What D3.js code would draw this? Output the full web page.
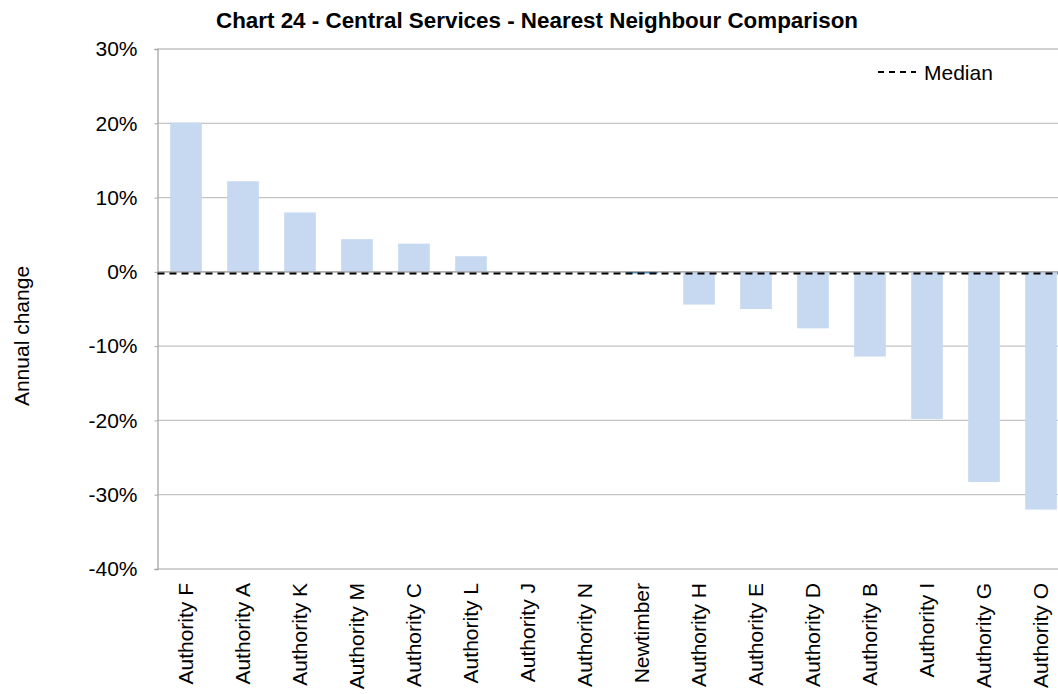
<!DOCTYPE html>
<html>
<head>
<meta charset="utf-8">
<script src="https://cdn.jsdelivr.net/npm/d3@7"></script>
<style>
  html, body { margin: 0; padding: 0; background: #fff; }
  svg { display: block; font-family: "Liberation Sans", Arial, sans-serif; }
</style>
</head>
<body>
<svg id="chart" width="1058" height="694"></svg>
<script>
// Annual change in spend, per authority (percent)
const authorities = ["Authority F", "Authority A", "Authority K", "Authority M", "Authority C",
  "Authority L", "Authority J", "Authority N", "Newtimber", "Authority H", "Authority E",
  "Authority D", "Authority B", "Authority I", "Authority G", "Authority O"];
const annualChange = [20.1, 12.2, 8.0, 4.4, 3.8, 2.1, 0, 0, -0.2, -4.4, -5.0, -7.6, -11.4, -19.8, -28.3, -32.0];
const highlighted = "Newtimber";
const yTicks = [30, 20, 10, 0, -10, -20, -30, -40];

const svg = d3.select("#chart");
const margin = { left: 157.5, top: 49, bottom: 569 };
const step = 57;
const fontFamily = "Liberation Sans, Arial, sans-serif";

const x = d3.scaleBand()
  .domain(authorities)
  .range([margin.left, margin.left + step * authorities.length])
  .paddingInner(0.445)
  .paddingOuter(0.2225);

const y = d3.scaleLinear().domain([-40, 30]).range([margin.bottom, margin.top]);

// Horizontal gridlines
svg.append("g")
  .selectAll("line")
  .data(yTicks)
  .join("line")
  .attr("x1", margin.left)
  .attr("x2", 1058)
  .attr("y1", d => y(d))
  .attr("y2", d => y(d))
  .attr("stroke", "#c3c3c3")
  .attr("stroke-width", 1.3);

// Y axis with percent labels
const yAxis = d3.axisLeft(y)
  .tickValues(yTicks)
  .tickFormat(d => d + "%")
  .tickSize(3)
  .tickPadding(17);

const yAxisG = svg.append("g")
  .attr("transform", `translate(${margin.left},0)`)
  .call(yAxis);
yAxisG.select(".domain").attr("stroke", "#a6a6a6").attr("stroke-width", 1.3);
yAxisG.selectAll(".tick line").attr("stroke", "#a6a6a6");
yAxisG.selectAll(".tick text")
  .attr("font-size", 21)
  .attr("fill", "#000")
  .style("font-family", fontFamily);

// Bars
svg.append("g")
  .selectAll("rect")
  .data(authorities.map((a, i) => ({ name: a, value: annualChange[i] })))
  .join("rect")
  .attr("x", d => x(d.name))
  .attr("width", x.bandwidth())
  .attr("y", d => y(Math.max(0, d.value)))
  .attr("height", d => Math.abs(y(d.value) - y(0)))
  .attr("fill", d => d.name === highlighted ? "#0070c0" : "#c6d9f1");

// Zero line
svg.append("line")
  .attr("x1", margin.left).attr("x2", 1058)
  .attr("y1", y(0)).attr("y2", y(0))
  .attr("stroke", "#a6a6a6").attr("stroke-width", 1.3);

// Median line
const median = d3.median(annualChange);
svg.append("line")
  .attr("x1", margin.left).attr("x2", 1058)
  .attr("y1", y(median) + 0.8).attr("y2", y(median) + 0.8)
  .attr("stroke", "#000").attr("stroke-width", 2)
  .attr("stroke-dasharray", "7,5");

// Category labels
svg.append("g")
  .selectAll("text")
  .data(authorities)
  .join("text")
  .attr("transform", d => `translate(${x(d) + x.bandwidth() / 2},583) rotate(-90)`)
  .attr("text-anchor", "end")
  .attr("dy", "0.35em")
  .attr("font-size", 21)
  .attr("fill", "#000")
  .text(d => d);

// Axis title
svg.append("text")
  .attr("transform", "translate(22,336) rotate(-90)")
  .attr("text-anchor", "middle")
  .attr("dy", "0.35em")
  .attr("font-size", 21)
  .attr("fill", "#000")
  .text("Annual change");

// Chart title
svg.append("text")
  .attr("x", 537)
  .attr("y", 28)
  .attr("text-anchor", "middle")
  .attr("font-size", 22.4)
  .attr("font-weight", "bold")
  .attr("fill", "#000")
  .text("Chart 24 - Central Services - Nearest Neighbour Comparison");

// Legend
svg.append("line")
  .attr("x1", 878).attr("x2", 916)
  .attr("y1", 72).attr("y2", 72)
  .attr("stroke", "#000").attr("stroke-width", 2)
  .attr("stroke-dasharray", "6,5");
svg.append("text")
  .attr("x", 924)
  .attr("y", 79.5)
  .attr("font-size", 21)
  .attr("fill", "#000")
  .text("Median");
</script>
</body>
</html>
